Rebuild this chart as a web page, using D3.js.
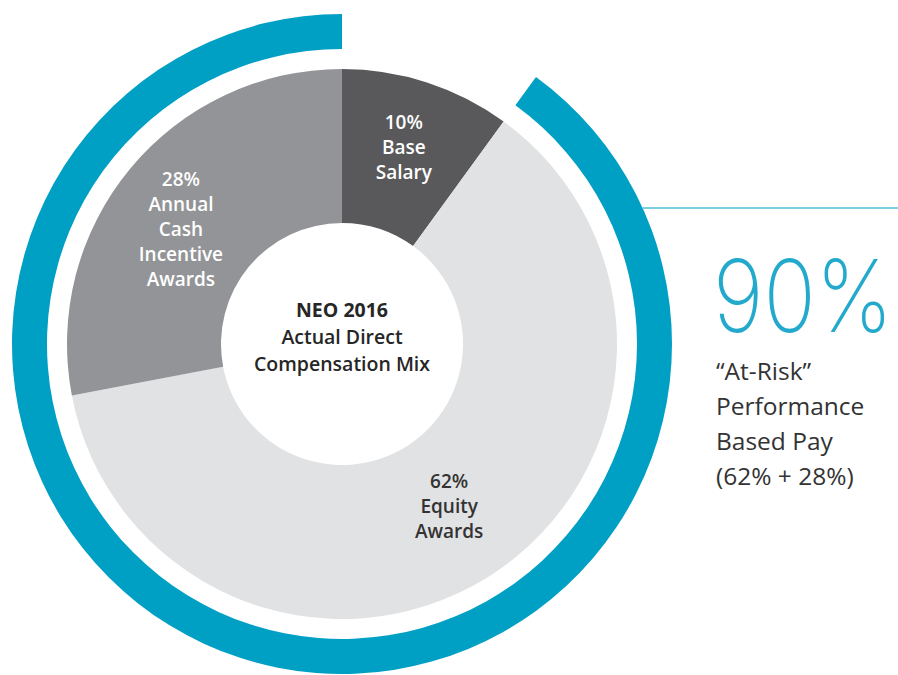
<!doctype html>
<html lang="en">
<head>
    <meta charset="UTF-8">
    <title>NEO 2016 Compensation Mix</title>
    <script src="https://cdn.jsdelivr.net/npm/d3@7/dist/d3.min.js"></script>
    <style>
        body { margin: 0; background: #fff; }
        svg { display: block; }
        .lbl { font-family: "Open Sans", sans-serif; font-weight: 600; font-size: 19px; }
    </style>
</head>
<body>
    <svg width="898" height="675"></svg>
    <script type="text/javascript">
    // values (percent of direct compensation)
    var names = ['Base Salary', 'Equity Awards', 'Annual Cash Incentive Awards'];
    var values = [10, 62, 28];
    var labelLines = [
        ['10%', 'Base', 'Salary'],
        ['62%', 'Equity', 'Awards'],
        ['28%', 'Annual', 'Cash', 'Incentive', 'Awards']
    ];
    var atRiskNames = ['Equity Awards', 'Annual Cash Incentive Awards'];
    var centerTitle = ['NEO 2016', 'Actual Direct', 'Compensation Mix'];
    var calloutLines = ['\u201cAt-Risk\u201d', 'Performance', 'Based Pay', '(62% + 28%)'];

    var svg = d3.select('svg'),
        cx = 342,
        cy = 344;

    var color = d3.scaleOrdinal()
        .domain(names)
        .range(['#59595b', '#e1e2e4', '#939497']);
    var textColor = d3.scaleOrdinal()
        .domain(names)
        .range(['#ffffff', '#333333', '#ffffff']);

    var pie = d3.pie().sort(null).value(function(d) { return d.value; });
    var data = names.map(function(n, i) { return { name: n, value: values[i], lines: labelLines[i] }; });
    var arcs = pie(data);

    var arc = d3.arc().innerRadius(121).outerRadius(275);
    var g = svg.append('g').attr('transform', 'translate(' + cx + ',' + cy + ')');

    g.selectAll('.slice')
        .data(arcs)
        .enter().append('path')
        .attr('class', 'slice')
        .attr('d', arc)
        .attr('fill', function(d) { return color(d.data.name); });

    // outer ring spanning the at-risk slices
    var risk = arcs.filter(function(d) { return atRiskNames.indexOf(d.data.name) >= 0; });
    var ring = {
        startAngle: d3.min(risk, function(d) { return d.startAngle; }),
        endAngle: d3.max(risk, function(d) { return d.endAngle; })
    };
    var ringArc = d3.arc().innerRadius(295).outerRadius(330);
    g.append('path')
        .attr('d', ringArc(ring))
        .attr('fill', '#00a0c5');

    // slice labels
    var nudge = { 'Annual Cash Incentive Awards': -0.1 };
    var lineH = 25;
    g.selectAll('.lbl')
        .data(arcs)
        .enter().append('text')
        .attr('class', 'lbl')
        .attr('text-anchor', 'middle')
        .attr('fill', function(d) { return textColor(d.data.name); })
        .each(function(d) {
            var a = (d.startAngle + d.endAngle) / 2 + (nudge[d.data.name] || 0);
            var r = d.data.name === 'Annual Cash Incentive Awards' ? 194 : 200;
            var x = Math.sin(a) * r,
                y = -Math.cos(a) * r;
            var n = d.data.lines.length;
            d3.select(this).selectAll('tspan')
                .data(d.data.lines)
                .enter().append('tspan')
                .attr('x', x)
                .attr('y', function(t, i) { return y + (i - (n - 1) / 2) * lineH; })
                .text(function(t) { return t; });
        });

    // centre title
    var title = g.append('text')
        .attr('text-anchor', 'middle')
        .attr('font-family', 'Open Sans, sans-serif')
        .attr('font-size', '19.5px')
        .attr('fill', '#262626');
    title.selectAll('tspan')
        .data(centerTitle)
        .enter().append('tspan')
        .attr('x', 0)
        .attr('y', function(d, i) { return -27 + i * 27; })
        .attr('font-weight', function(d, i) { return i === 0 ? 700 : 600; })
        .text(function(d) { return d; });

    // callout line from ring to the right edge
    var ly = -136;
    var lx = Math.sqrt(330 * 330 - ly * ly);
    g.append('line')
        .attr('x1', lx).attr('y1', ly)
        .attr('x2', 898 - cx).attr('y2', ly)
        .attr('stroke', '#4fbfda')
        .attr('stroke-width', 1.5);

    // big 90% figure, squeezed horizontally to fit the space
    var sum = d3.sum(risk, function(d) { return d.value; });
    var big = svg.append('text')
        .attr('font-family', 'Inter, Lato, sans-serif')
        .attr('font-weight', 200)
        .attr('font-size', '100px')
        .attr('fill', '#22a9cc')
        .text(sum + '%');
    var natural = big.node().getComputedTextLength();
    var sx = Math.min(1, 180 / natural);
    big.attr('transform', 'translate(713,332) scale(' + sx + ',1)');

    svg.append('text')
        .attr('font-family', 'Open Sans, sans-serif')
        .attr('font-size', '24.5px')
        .attr('fill', '#333333')
        .selectAll('tspan')
        .data(calloutLines)
        .enter().append('tspan')
        .attr('x', 716)
        .attr('y', function(d, i) { return 380 + i * 35; })
        .text(function(d) { return d; });
    </script>
</body>
</html>
